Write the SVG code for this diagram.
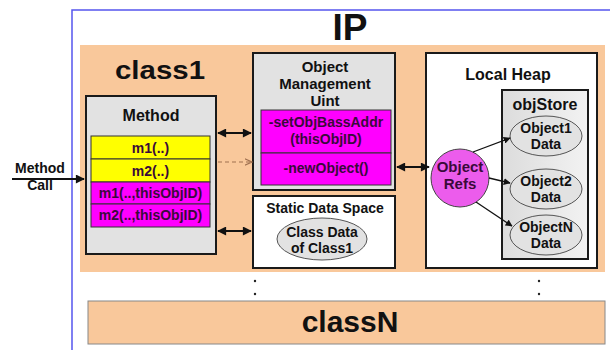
<svg xmlns="http://www.w3.org/2000/svg" width="610" height="350" viewBox="0 0 610 350">
<defs>
<marker id="ah" viewBox="0 0 10 10" refX="9" refY="5" markerWidth="10" markerHeight="9" orient="auto-start-reverse" markerUnits="userSpaceOnUse">
<path d="M0,0 L10,5 L0,10 z" fill="#111"/>
</marker>
<marker id="sa" viewBox="0 0 10 10" refX="9" refY="5" markerWidth="7" markerHeight="7" orient="auto" markerUnits="userSpaceOnUse">
<path d="M0,0 L10,5 L0,10 z" fill="#111"/>
</marker>
<marker id="da" viewBox="0 0 10 10" refX="9" refY="5" markerWidth="8" markerHeight="8" orient="auto" markerUnits="userSpaceOnUse">
<path d="M0,1 L9,5 L0,9" fill="none" stroke="#A07050" stroke-width="1.5"/>
</marker>
<linearGradient id="gs" x1="0" y1="0" x2="1" y2="0">
<stop offset="0" stop-color="#DCDCDC"/><stop offset="1" stop-color="#F2F2F2"/>
</linearGradient>
</defs>
<style>
text{font-family:"Liberation Sans",Arial,sans-serif;font-weight:bold;text-anchor:middle;fill:#111}
.box{stroke:#1a1a1a;stroke-width:2}
.gray{fill:#E2E2E2}
.white{fill:#fff}
.yel{fill:#FFFF00;stroke:#333;stroke-width:1}
.mag{fill:#FF00FF;stroke:#333;stroke-width:1}
.pt{fill:#3a0a3a;font-size:14px}
.t14{font-size:14px}
.t15{font-size:15px}
.t16{font-size:16px}
.ell{fill:#E2E2E2;stroke:#555;stroke-width:1}
.conn{stroke:#111;stroke-width:2;fill:none}
.peach{fill:#F9C89B}
</style>
<rect width="610" height="350" fill="#fff"/>
<rect x="72" y="10" width="560" height="400" fill="none" stroke="#5555EE" stroke-width="1.5"/>
<text x="350" y="40" style="font-size:37px">IP</text>
<g id="class1">
<rect class="peach" x="80" y="45" width="525" height="227"/>
<text x="160" y="79" style="font-size:26px" textLength="90" lengthAdjust="spacingAndGlyphs">class1</text>
</g>
<g id="method">
<rect class="box gray" x="86" y="96" width="130" height="158"/>
<text class="t16" x="151" y="121">Method</text>
<rect class="yel" x="91" y="136" width="119" height="23"/>
<text class="pt" x="150.5" y="153">m1(..)</text>
<rect class="yel" x="91" y="159" width="119" height="23"/>
<text class="pt" x="150.5" y="176">m2(..)</text>
<rect class="mag" x="91" y="182" width="119" height="22"/>
<text class="pt" x="150.5" y="198">m1(..,thisObjID)</text>
<rect class="mag" x="91" y="204" width="119" height="23"/>
<text class="pt" x="150.5" y="220">m2(..,thisObjID)</text>
</g>
<g id="omu">
<rect class="box gray" x="253" y="53" width="142" height="137"/>
<text class="t15" x="325" y="72">Object</text>
<text class="t15" x="325" y="89">Management</text>
<text class="t15" x="325" y="106">Uint</text>
<rect class="mag" x="261" y="110" width="130" height="43"/>
<text class="pt" x="326" y="127">-setObjBassAddr</text>
<text class="pt" x="326" y="144">(thisObjID)</text>
<rect class="mag" x="261" y="153" width="130" height="32"/>
<text class="pt" x="326" y="173">-newObject()</text>
</g>
<g id="static">
<rect class="box white" x="253" y="196" width="142" height="72"/>
<text class="t14" x="325" y="213">Static Data Space</text>
<ellipse class="ell" cx="322" cy="239" rx="45" ry="21"/>
<text class="t14" x="322" y="237">Class Data</text>
<text class="t14" x="322" y="253">of Class1</text>
</g>
<g id="heap">
<rect class="box white" x="426" y="53" width="171" height="215"/>
<text class="t16" x="508" y="80">Local Heap</text>
<rect x="502" y="90" width="86" height="169" fill="url(#gs)" stroke="#1a1a1a" stroke-width="2"/>
<text class="t16" x="545" y="110">objStore</text>
</g>
<g id="obj1">
<ellipse class="ell" cx="546" cy="136" rx="36" ry="20"/>
<text class="t14" x="546" y="133">Object1</text>
<text class="t14" x="546" y="149">Data</text>
</g>
<g id="obj2">
<ellipse class="ell" cx="546" cy="189" rx="36" ry="20"/>
<text class="t14" x="546" y="186">Object2</text>
<text class="t14" x="546" y="202">Data</text>
</g>
<g id="objN">
<ellipse class="ell" cx="546" cy="235" rx="36" ry="20"/>
<text class="t14" x="546" y="232">ObjectN</text>
<text class="t14" x="546" y="248">Data</text>
</g>
<g id="refs">
<circle cx="460" cy="178" r="29" fill="#EC5CEC" stroke="#444" stroke-width="1"/>
<text class="pt" x="460" y="172" style="font-size:15px">Object</text>
<text class="pt" x="460" y="189" style="font-size:15px">Refs</text>
</g>
<g id="classN">
<rect class="peach" x="88" y="301" width="517" height="43" stroke="#888" stroke-width="1"/>
<text x="350" y="332" style="font-size:30px">classN</text>
</g>
<g id="dots" fill="#222">
<circle cx="255" cy="281" r="1.2"/><circle cx="255" cy="294" r="1.2"/>
<circle cx="539" cy="281" r="1.2"/><circle cx="539" cy="294" r="1.2"/>
</g>
<g id="connectors">
<line class="conn" x1="12" y1="179" x2="84" y2="179" marker-end="url(#ah)"/>
<line class="conn" x1="218" y1="133" x2="251" y2="133" marker-start="url(#ah)" marker-end="url(#ah)"/>
<line class="conn" x1="218" y1="231" x2="251" y2="231" marker-start="url(#ah)" marker-end="url(#ah)"/>
<line class="conn" x1="397" y1="167" x2="429" y2="167" marker-start="url(#ah)" marker-end="url(#ah)"/>
<line x1="218" y1="162" x2="252" y2="162" stroke="#A07050" stroke-width="1.2" stroke-dasharray="4,3" marker-end="url(#da)"/>
<line x1="473" y1="152" x2="510" y2="138" stroke="#111" stroke-width="1.3" marker-end="url(#sa)"/>
<line x1="489" y1="178" x2="510" y2="183" stroke="#111" stroke-width="1.3" marker-end="url(#sa)"/>
<line x1="476" y1="202" x2="512" y2="226" stroke="#111" stroke-width="1.3" marker-end="url(#sa)"/>
</g>
<text class="t14" x="40" y="173">Method</text>
<text class="t14" x="40" y="190">Call</text>
</svg>
